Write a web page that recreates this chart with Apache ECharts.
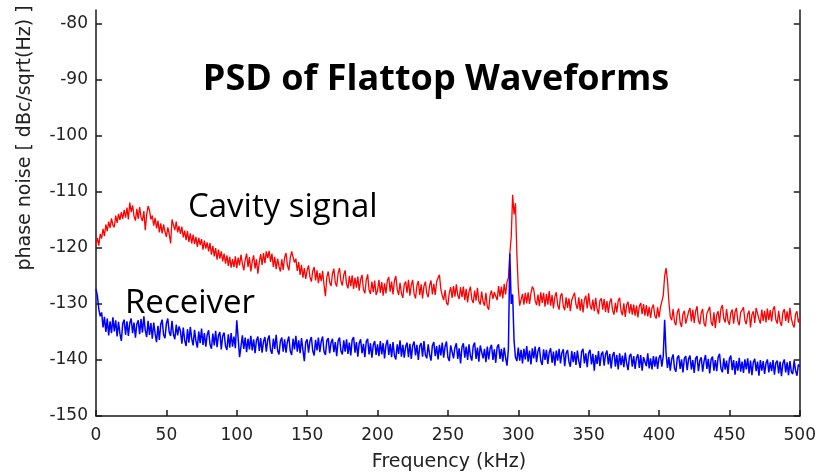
<!DOCTYPE html>
<html>
<head>
<meta charset="utf-8">
<style>
  html, body { margin: 0; padding: 0; background: #fff; }
  #chart { width: 819px; height: 474px; }
</style>
<script src="https://cdn.jsdelivr.net/npm/echarts@6/dist/echarts.min.js"></script>
</head>
<body>
<div id="chart"></div>
<script>
// Spectrum bins are 1 kHz apart, starting at 0 kHz.
const freqStepKHz = 1;

// Phase noise of the cavity signal, dBc/sqrt(Hz), 20 bins per row
const cavityDb = [
  -119.4,-118.2,-119.6,-117.5,-118.3,-116.6,-117.9,-115.8,-117.0,-115.3,-116.4,-114.7,-115.9,-116.3,-114.2,-115.5,-113.9,-115.0,-113.6,-114.8,
  -113.2,-114.6,-112.8,-114.9,-111.9,-113.6,-112.4,-114.3,-115.1,-113.0,-114.8,-112.7,-114.5,-115.2,-113.4,-116.8,-114.0,-112.5,-113.3,-114.9,
  -114.2,-116.0,-114.6,-116.5,-115.1,-117.2,-115.6,-117.4,-115.8,-117.1,-118.0,-116.3,-117.5,-119.2,-114.9,-115.2,-116.8,-115.3,-117.2,-116.1,
  -117.5,-116.2,-118.1,-116.9,-118.6,-117.0,-118.9,-117.4,-119.2,-117.6,-119.3,-118.0,-119.8,-118.2,-119.5,-118.4,-120.3,-118.7,-120.1,-119.0,
  -120.6,-119.1,-121.2,-119.6,-121.5,-120.0,-122.1,-120.3,-121.9,-120.6,-122.4,-121.0,-122.8,-121.3,-123.2,-121.6,-123.5,-122.0,-123.4,-121.5,
  -123.6,-121.7,-123.1,-121.2,-122.8,-124.0,-122.1,-121.0,-123.4,-121.6,-124.2,-122.4,-121.3,-123.7,-122.0,-124.6,-122.5,-121.1,-123.0,-120.9,
  -122.7,-120.6,-121.8,-120.5,-122.5,-121.0,-123.4,-121.6,-123.8,-121.9,-123.3,-124.2,-122.0,-123.9,-121.7,-120.9,-123.1,-124.0,-121.8,-120.6,
  -120.7,-122.6,-121.9,-124.1,-122.5,-124.8,-123.0,-125.3,-123.6,-125.5,-124.0,-123.1,-125.2,-126.0,-124.1,-123.4,-125.8,-124.0,-126.3,-124.5,
  -125.9,-124.1,-126.6,-128.6,-125.2,-124.2,-126.1,-126.8,-124.6,-123.7,-126.2,-126.9,-124.5,-123.6,-125.9,-126.7,-124.8,-124.0,-126.4,-127.2,
  -125.0,-126.8,-124.9,-127.3,-125.3,-127.1,-125.1,-127.6,-125.6,-124.8,-127.4,-128.1,-125.8,-124.7,-127.5,-128.2,-126.0,-127.9,-125.8,-128.4,
  -127.6,-125.7,-128.0,-126.1,-128.5,-126.3,-128.1,-125.8,-125.2,-127.8,-126.0,-128.3,-125.9,-125.0,-127.4,-128.4,-126.2,-128.1,-128.9,-126.5,
  -126.0,-128.0,-125.7,-128.5,-126.6,-125.7,-128.2,-129.0,-126.7,-125.9,-128.4,-126.5,-129.0,-126.8,-126.0,-128.1,-128.8,-126.7,-125.8,-128.3,
  -126.4,-128.4,-126.0,-125.3,-124.8,-127.4,-128.5,-129.3,-127.5,-129.8,-130.2,-128.0,-127.0,-128.9,-126.8,-128.7,-126.5,-128.4,-129.1,-127.0,
  -128.8,-126.9,-129.3,-127.3,-129.7,-127.8,-126.9,-129.2,-129.8,-127.6,-129.4,-127.1,-129.5,-130.1,-127.8,-129.6,-130.3,-128.0,-130.5,-131.0,
  -128.4,-127.6,-129.1,-127.9,-128.6,-129.3,-126.8,-128.7,-126.9,-129.0,-126.4,-128.3,-126.1,-125.3,-121.0,-118.0,-110.5,-114.0,-112.0,-121.0,
  -127.0,-130.3,-130.6,-128.2,-130.1,-128.0,-129.9,-127.9,-130.0,-128.1,-126.9,-127.4,-129.4,-130.2,-128.3,-130.4,-127.9,-129.8,-128.0,-130.5,
  -128.2,-130.1,-127.7,-130.3,-128.4,-130.8,-128.7,-127.9,-130.2,-131.0,-128.6,-128.1,-130.4,-131.1,-128.8,-130.7,-129.0,-131.3,-129.3,-128.6,
  -128.0,-130.1,-130.9,-128.8,-131.2,-129.1,-131.5,-129.2,-128.5,-130.8,-128.1,-130.2,-131.0,-129.2,-131.3,-128.9,-130.9,-131.8,-129.4,-129.0,
  -131.0,-129.1,-131.4,-129.5,-131.6,-129.7,-129.0,-131.1,-131.9,-129.8,-131.5,-129.4,-128.9,-131.2,-132.0,-129.9,-132.3,-130.2,-129.6,-131.7,
  -130.0,-131.9,-130.1,-132.1,-130.3,-132.4,-130.4,-129.8,-131.8,-130.0,-132.1,-130.2,-132.2,-130.5,-132.5,-130.7,-130.1,-132.1,-132.6,-130.6,
  -132.4,-130.6,-130.4,-128.5,-125.0,-123.6,-125.8,-129.6,-132.3,-132.9,-130.9,-133.2,-133.8,-131.5,-130.8,-133.3,-134.1,-131.8,-131.2,-133.5,
  -133.7,-131.4,-130.7,-133.1,-131.0,-133.4,-131.3,-130.4,-133.0,-133.6,-131.6,-130.9,-133.5,-134.0,-131.7,-131.1,-130.5,-133.2,-133.9,-131.5,
  -134.3,-131.9,-131.3,-133.4,-130.8,-130.2,-132.6,-133.3,-130.9,-133.0,-133.7,-131.6,-131.0,-133.5,-131.4,-130.7,-133.1,-133.8,-131.5,-131.1,
  -130.6,-132.9,-133.6,-131.8,-131.2,-134.2,-131.9,-131.3,-133.4,-130.7,-130.4,-132.7,-133.5,-131.0,-133.0,-131.2,-133.3,-130.8,-132.9,-131.1,
  -133.1,-131.0,-130.4,-132.8,-133.5,-131.2,-133.2,-133.9,-131.5,-130.9,-133.0,-131.3,-133.4,-130.7,-132.6,-133.6,-134.2,-131.8,-131.3,-133.3,
  -132.5
];

// Phase noise of the receiver, dBc/sqrt(Hz), 20 bins per row
const receiverDb = [
  -127.3,-128.6,-130.9,-132.2,-131.5,-134.2,-132.3,-135.0,-132.6,-135.6,-133.1,-135.2,-132.4,-134.9,-132.9,-135.8,-133.2,-135.3,-136.6,-133.5,
  -132.8,-135.5,-133.1,-135.7,-133.4,-132.6,-135.2,-133.3,-136.0,-133.6,-132.9,-135.4,-132.7,-135.1,-132.2,-134.7,-135.9,-133.0,-135.5,-133.4,
  -136.2,-133.3,-135.3,-136.8,-133.9,-136.4,-133.6,-132.8,-135.5,-136.1,-133.5,-132.6,-135.0,-135.7,-133.0,-135.4,-136.3,-133.7,-135.6,-134.0,
  -134.8,-137.1,-134.2,-136.5,-137.5,-134.5,-136.9,-134.1,-136.2,-137.4,-134.6,-136.6,-137.8,-134.9,-137.0,-134.4,-137.3,-135.2,-137.6,-135.5,
  -134.7,-137.2,-138.0,-135.3,-137.4,-134.8,-137.7,-135.6,-135.0,-138.1,-135.7,-135.1,-137.5,-138.2,-135.4,-137.8,-135.2,-137.6,-135.8,-137.9,
  -132.9,-136.1,-139.5,-137.6,-135.6,-138.0,-136.0,-138.6,-136.2,-138.1,-135.7,-138.3,-136.3,-138.8,-136.5,-135.8,-138.4,-136.1,-138.7,-136.7,
  -135.9,-138.5,-136.4,-135.6,-138.2,-138.9,-136.2,-138.0,-135.5,-138.3,-139.0,-136.6,-136.0,-138.5,-136.3,-138.7,-136.7,-135.8,-138.4,-139.1,
  -136.2,-138.1,-135.7,-138.5,-136.5,-138.8,-136.1,-138.2,-140.2,-136.8,-136.3,-138.7,-136.6,-135.9,-138.4,-139.2,-136.4,-138.3,-136.0,-138.6,
  -136.7,-135.8,-138.5,-139.1,-136.5,-136.1,-138.8,-136.9,-136.2,-138.6,-136.8,-139.3,-136.6,-136.0,-138.4,-139.0,-136.5,-138.5,-136.3,-138.9,
  -136.9,-139.2,-136.4,-135.9,-138.7,-136.8,-139.4,-137.0,-136.3,-138.8,-137.1,-139.5,-136.7,-136.2,-139.0,-137.0,-139.6,-137.3,-136.6,-139.1,
  -137.2,-139.3,-136.6,-139.0,-137.0,-139.7,-137.3,-136.4,-139.1,-137.1,-139.5,-136.8,-139.2,-139.9,-137.2,-138.9,-136.5,-139.4,-137.3,-139.6,
  -137.6,-136.9,-139.5,-137.1,-139.8,-137.4,-136.7,-139.2,-137.3,-140.0,-137.5,-137.0,-139.4,-136.6,-139.1,-139.7,-137.2,-139.0,-140.1,-137.4,
  -136.8,-139.3,-137.5,-139.9,-137.3,-139.2,-136.9,-139.6,-137.6,-136.7,-139.5,-140.2,-137.4,-137.1,-139.7,-137.8,-137.0,-139.8,-137.9,-140.6,
  -137.7,-137.0,-139.6,-137.6,-140.0,-137.2,-139.3,-140.1,-137.5,-136.9,-139.8,-137.8,-140.3,-137.4,-137.1,-139.7,-138.0,-140.4,-137.6,-139.9,
  -137.9,-137.3,-140.0,-138.1,-140.5,-137.7,-137.2,-139.8,-138.0,-140.3,-137.8,-139.6,-141.0,-138.0,-121.0,-130.0,-128.3,-136.5,-139.5,-140.2,
  -137.8,-140.1,-138.2,-140.6,-138.0,-139.9,-137.5,-140.3,-138.3,-140.8,-137.9,-139.7,-137.6,-140.4,-138.4,-137.7,-140.2,-140.9,-138.1,-140.0,
  -138.2,-140.7,-138.6,-137.9,-140.5,-138.5,-141.0,-138.3,-140.1,-138.0,-140.6,-138.7,-138.1,-141.1,-138.8,-138.2,-140.3,-141.2,-138.4,-140.4,
  -138.6,-140.9,-138.3,-140.2,-141.4,-138.5,-138.0,-140.6,-138.8,-141.3,-138.7,-138.2,-140.8,-138.9,-141.9,-139.1,-140.7,-138.4,-141.1,-139.0,
  -138.5,-141.0,-139.0,-138.3,-140.8,-138.9,-141.5,-139.2,-138.6,-141.2,-139.1,-141.7,-138.8,-140.9,-139.2,-141.3,-138.7,-140.6,-141.8,-139.3,
  -138.9,-141.2,-139.3,-141.6,-139.6,-139.0,-141.4,-139.1,-141.9,-139.5,-139.2,-141.1,-138.8,-141.5,-139.7,-141.7,-139.3,-141.2,-139.4,-141.6,
  -139.6,-139.1,-141.2,-139.3,-132.8,-138.8,-141.4,-139.5,-141.9,-139.8,-139.0,-141.5,-142.1,-139.6,-139.2,-141.6,-139.9,-142.2,-139.7,-139.3,
  -141.8,-139.8,-139.2,-141.7,-140.0,-142.3,-139.7,-139.3,-142.0,-140.1,-139.5,-142.1,-140.2,-139.1,-141.6,-139.8,-142.4,-139.9,-139.4,-141.9,
  -140.0,-142.0,-139.5,-138.9,-141.5,-142.2,-139.7,-141.7,-140.1,-142.5,-139.8,-139.2,-141.8,-140.0,-142.6,-140.2,-141.9,-139.6,-142.1,-140.3,
  -142.3,-139.9,-141.7,-139.7,-142.4,-140.1,-142.7,-140.4,-139.8,-142.0,-140.3,-142.8,-140.0,-141.9,-140.2,-142.5,-140.6,-139.9,-142.2,-140.4,
  -142.0,-140.0,-142.6,-140.5,-140.1,-142.4,-140.3,-142.9,-140.6,-139.9,-142.2,-140.4,-142.7,-140.2,-142.1,-142.5,-140.1,-141.9,-142.8,-140.8,
  -141.2
];

// Axis ticks
const xTickValues = [0, 50, 100, 150, 200, 250, 300, 350, 400, 450, 500];
const yTickValues = [-150, -140, -130, -120, -110, -100, -90, -80];

const toPairs = arr => arr.map((v, i) => [i * freqStepKHz, v]);

const tickFont = { fontFamily: 'DejaVu Sans', fontSize: 17, color: '#222' };
const axisLineStyle = { color: '#1a1a1a', width: 1.5 };

const chart = echarts.init(document.getElementById('chart'), null, { renderer: 'canvas' });

chart.setOption({
  animation: false,
  backgroundColor: '#ffffff',
  grid: { left: 96, right: 16, top: 10, bottom: 58, containLabel: false },
  xAxis: {
    type: 'value',
    min: 0, max: 500, interval: 50,
    axisLine: { show: true, onZero: false, lineStyle: axisLineStyle },
    axisTick: { show: true, inside: true, length: 6, customValues: xTickValues, lineStyle: axisLineStyle },
    axisLabel: { ...tickFont, margin: 11, customValues: xTickValues },
    splitLine: { show: false }
  },
  yAxis: [
    {
      type: 'value', position: 'left',
      min: -150, max: -77.5,
      axisLine: { show: true, onZero: false, lineStyle: axisLineStyle },
      axisTick: { show: true, inside: true, length: 6, customValues: yTickValues, lineStyle: axisLineStyle },
      axisLabel: { ...tickFont, margin: 8, customValues: yTickValues },
      splitLine: { show: false }
    },
    {
      type: 'value', position: 'right',
      min: -150, max: -77.5,
      axisLine: { show: true, onZero: false, lineStyle: axisLineStyle },
      axisTick: { show: true, inside: true, length: 6, customValues: yTickValues, lineStyle: axisLineStyle },
      axisLabel: { show: false },
      splitLine: { show: false }
    }
  ],
  series: [
    {
      name: 'Cavity signal',
      type: 'line',
      data: toPairs(cavityDb),
      showSymbol: false,
      sampling: 'none',
      lineStyle: { color: '#ff0000', width: 1.3 },
      z: 2
    },
    {
      name: 'Receiver',
      type: 'line',
      data: toPairs(receiverDb),
      showSymbol: false,
      sampling: 'none',
      lineStyle: { color: '#0000ff', width: 1.5 },
      z: 3
    }
  ],
  graphic: [
    {
      type: 'text', x: 436, y: 80, z: 10,
      style: { text: 'PSD of Flattop Waveforms', fontFamily: 'Open Sans', fontWeight: 'bold', fontSize: 36, fill: '#000', align: 'center', verticalAlign: 'middle' }
    },
    {
      type: 'text', x: 188, y: 191, z: 10,
      style: { text: 'Cavity signal', fontFamily: 'Open Sans', fontSize: 33, fill: '#000' }
    },
    {
      type: 'text', x: 125, y: 287, z: 10,
      style: { text: 'Receiver', fontFamily: 'Open Sans', fontSize: 33, fill: '#000' }
    },
    {
      type: 'text', x: 449, y: 462, z: 10,
      style: { text: 'Frequency (kHz)', fontFamily: 'DejaVu Sans', fontSize: 19, fill: '#222', align: 'center', verticalAlign: 'middle' }
    },
    {
      type: 'text', x: 25, y: 138, rotation: Math.PI / 2, z: 10,
      style: { text: 'phase noise [ dBc/sqrt(Hz) ]', fontFamily: 'DejaVu Sans', fontSize: 19, fill: '#222', align: 'center', verticalAlign: 'middle' }
    }
  ]
});
</script>
</body>
</html>
